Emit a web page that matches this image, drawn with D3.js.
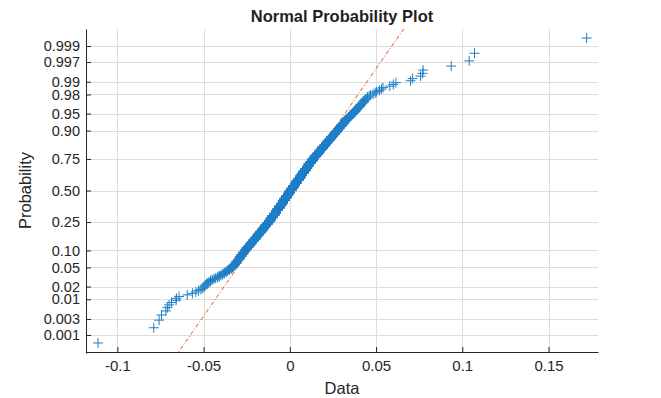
<!DOCTYPE html>
<html>
<head>
<meta charset="utf-8">
<script src="https://cdn.jsdelivr.net/npm/d3@7"></script>
<style>
  body { margin: 0; background: #fff; }
  text { font-family: "Liberation Sans", Arial, Helvetica, sans-serif; }
</style>
</head>
<body>
<svg id="chart" width="661" height="398"></svg>
<script>
// sample: the 20 smallest and 20 largest points one by one,
// the dense middle as a frequency table (value, how many points)
const lowerTail = [-0.1112, -0.0789, -0.0758, -0.0744, -0.0719, -0.0710, -0.0700, -0.0686, -0.0660, -0.0657,
  -0.0642, -0.0595, -0.0565, -0.0545, -0.0530, -0.0515, -0.0505, -0.0498, -0.0493, -0.0488];
const upperTail = [0.0460, 0.0468, 0.0483, 0.0495, 0.0503, 0.0520, 0.0532, 0.0540, 0.0580, 0.0600,
  0.0615, 0.0700, 0.0712, 0.0758, 0.0770, 0.0773, 0.0936, 0.1040, 0.1071, 0.1721];
const bandValues = [-0.048, -0.047, -0.046, -0.045, -0.044, -0.043, -0.042, -0.041, -0.040, -0.039,
  -0.038, -0.037, -0.036, -0.035, -0.034, -0.033, -0.032, -0.031, -0.030, -0.029,
  -0.028, -0.027, -0.026, -0.025, -0.024, -0.023, -0.022, -0.021, -0.020, -0.019,
  -0.018, -0.017, -0.016, -0.015, -0.014, -0.013, -0.012, -0.011, -0.010, -0.009,
  -0.008, -0.007, -0.006, -0.005, -0.004, -0.003, -0.002, -0.001, 0.000, 0.001,
  0.002, 0.003, 0.004, 0.005, 0.006, 0.007, 0.008, 0.009, 0.010, 0.011,
  0.012, 0.013, 0.014, 0.015, 0.016, 0.017, 0.018, 0.019, 0.020, 0.021,
  0.022, 0.023, 0.024, 0.025, 0.026, 0.027, 0.028, 0.029, 0.030, 0.031,
  0.032, 0.033, 0.034, 0.035, 0.036, 0.037, 0.038, 0.039, 0.040, 0.041,
  0.042, 0.043, 0.044, 0.045];
const bandCounts = [2, 1, 2, 1, 1, 1, 1, 2, 1, 2,
  2, 2, 2, 2, 2, 5, 4, 6, 5, 7,
  7, 7, 7, 8, 7, 9, 8, 9, 10, 10,
  10, 11, 11, 12, 12, 12, 15, 15, 16, 16,
  17, 17, 18, 18, 19, 20, 19, 19, 20, 19,
  19, 18, 19, 18, 18, 18, 17, 16, 17, 16,
  15, 15, 12, 12, 11, 12, 10, 11, 9, 10,
  9, 8, 9, 7, 8, 7, 7, 6, 6, 6,
  5, 4, 4, 4, 3, 3, 4, 3, 3, 3,
  2, 3, 2, 2];

const probTicks = [0.001, 0.003, 0.01, 0.02, 0.05, 0.10, 0.25, 0.50, 0.75, 0.90, 0.95, 0.98, 0.99, 0.997, 0.999];
const probLabels = ["0.001", "0.003", "0.01", "0.02", "0.05", "0.10", "0.25", "0.50", "0.75", "0.90", "0.95", "0.98", "0.99", "0.997", "0.999"];
const xTicks = [-0.1, -0.05, 0, 0.05, 0.1, 0.15];
const xTickLabels = ["-0.1", "-0.05", "0", "0.05", "0.1", "0.15"];

// inverse normal cdf (Acklam) - the probability axis is linear in z
function norminv(p) {
  const a = [-39.69683028665376, 220.9460984245205, -275.9285104469687, 138.3577518672690, -30.66479806614716, 2.506628277459239];
  const b = [-54.47609879822406, 161.5858368580409, -155.6989798598866, 66.80131188771972, -13.28068155288572];
  const c = [-0.007784894002430293, -0.3223964580411365, -2.400758277161838, -2.549732539343734, 4.374664141464968, 2.938163982698783];
  const d = [0.007784695709041462, 0.3224671290700398, 2.445134137142996, 3.754408661907416];
  const pl = 0.02425;
  let q, r;
  if (p < pl) {
    q = Math.sqrt(-2 * Math.log(p));
    return (((((c[0]*q+c[1])*q+c[2])*q+c[3])*q+c[4])*q+c[5]) / ((((d[0]*q+d[1])*q+d[2])*q+d[3])*q+1);
  }
  if (p > 1 - pl) {
    q = Math.sqrt(-2 * Math.log(1 - p));
    return -(((((c[0]*q+c[1])*q+c[2])*q+c[3])*q+c[4])*q+c[5]) / ((((d[0]*q+d[1])*q+d[2])*q+d[3])*q+1);
  }
  q = p - 0.5; r = q * q;
  return (((((a[0]*r+a[1])*r+a[2])*r+a[3])*r+a[4])*r+a[5])*q / (((((b[0]*r+b[1])*r+b[2])*r+b[3])*r+b[4])*r+1);
}

const data = lowerTail.slice();
bandValues.forEach((v, i) => { for (let k = 0; k < bandCounts[i]; k++) data.push(v); });
upperTail.forEach(v => data.push(v));
data.sort(d3.ascending);
const n = data.length;
const points = data.map((v, i) => ({ v, z: norminv((i + 0.5) / n) }));

// matlab style percentile (midpoint positions)
function prc(p) {
  const pos = n * p + 0.5;
  const lo = Math.floor(pos), t = pos - lo;
  return data[lo - 1] + t * (data[lo] - data[lo - 1]);
}
const q1 = prc(0.25), q3 = prc(0.75);
const z1 = norminv(0.25), z3 = norminv(0.75);
const fitZ = v => z1 + (v - q1) * (z3 - z1) / (q3 - q1);

const svg = d3.select("#chart");
const plotL = 86, plotR = 598, plotT = 29, plotB = 352;

const x = d3.scaleLinear().domain([-0.1179, 0.1787]).range([plotL + 0.5, plotR]);
const y = d3.scaleLinear().domain([-3.475, 3.454]).range([plotB + 1, plotT]);

// grid
const grid = svg.append("g").attr("stroke", "#dcdcdc").attr("stroke-width", 1);
grid.selectAll(".gx").data(xTicks).join("line")
  .attr("x1", d => Math.round(x(d)) + 0.5).attr("x2", d => Math.round(x(d)) + 0.5)
  .attr("y1", plotT).attr("y2", plotB);
grid.selectAll(".gy").data(probTicks).join("line")
  .attr("x1", plotL).attr("x2", plotR)
  .attr("y1", d => Math.round(y(norminv(d))) + 0.5).attr("y2", d => Math.round(y(norminv(d))) + 0.5);

svg.append("clipPath").attr("id", "plotclip")
  .append("rect").attr("x", plotL).attr("y", plotT).attr("width", plotR - plotL).attr("height", plotB - plotT + 1);

// reference line through the quartiles
const ends = [d3.min(data), d3.max(data)];
svg.append("path")
  .attr("clip-path", "url(#plotclip)")
  .attr("d", d3.line().x(d => x(d)).y(d => y(fitZ(d)))(ends))
  .attr("fill", "none")
  .attr("stroke", "#D95319")
  .attr("stroke-width", 1)
  .attr("stroke-dasharray", "4,2,1,2");

// data markers
svg.append("g")
  .attr("fill", "none")
  .attr("stroke", "#1f7fc6")
  .attr("stroke-width", 1)
  .selectAll("path")
  .data(points)
  .join("path")
  .attr("d", "M-5,0H5M0,-5V5")
  .attr("transform", d => `translate(${x(d.v)},${y(d.z)})`);

// axes
const yAxis = g => g.attr("transform", `translate(${plotL},0)`)
  .call(d3.axisLeft(y).tickValues(probTicks.map(norminv)).tickFormat((d, i) => probLabels[i])
    .tickSizeInner(-5).tickSizeOuter(0).tickPadding(6))
  .attr("font-size", 14.5)
  .attr("font-family", "Liberation Sans, Arial, sans-serif")
  .attr("color", "#262626");

const xAxis = g => g.attr("transform", `translate(0,${plotB})`)
  .call(d3.axisBottom(x).tickValues(xTicks).tickFormat((d, i) => xTickLabels[i])
    .tickSizeInner(-5).tickSizeOuter(0).tickPadding(8))
  .attr("font-size", 15)
  .attr("font-family", "Liberation Sans, Arial, sans-serif")
  .attr("color", "#262626");

svg.append("g").call(yAxis);
svg.append("g").call(xAxis);

svg.append("text")
  .attr("x", (plotL + plotR) / 2).attr("y", 22)
  .attr("text-anchor", "middle")
  .attr("font-size", 16.5).attr("font-weight", "bold")
  .attr("fill", "#1f1f1f")
  .text("Normal Probability Plot");

svg.append("text")
  .attr("x", (plotL + plotR) / 2).attr("y", 394)
  .attr("text-anchor", "middle")
  .attr("font-size", 16.5)
  .attr("fill", "#262626")
  .text("Data");

svg.append("text")
  .attr("transform", `translate(31,${(plotT + plotB) / 2}) rotate(-90)`)
  .attr("text-anchor", "middle")
  .attr("font-size", 16.5)
  .attr("fill", "#262626")
  .text("Probability");
</script>
</body>
</html>
